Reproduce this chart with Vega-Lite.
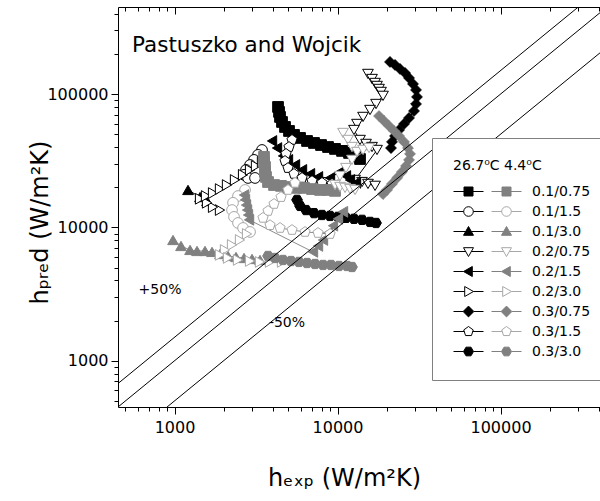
{
  "$schema": "https://vega.github.io/schema/vega-lite/v6.json",
  "width": 482,
  "height": 400,
  "autosize": {"type": "none"},
  "padding": {"left": 118, "top": 7, "right": 0, "bottom": 94},
  "background": "#ffffff",
  "config": {
    "font": "DejaVu Sans",
    "view": {"stroke": null},
    "axis": {"domainColor": "#000", "tickColor": "#000", "labelColor": "#000", "titleColor": "#000", "grid": false, "domainWidth": 1, "tickWidth": 1}
  },
  "title": {"text": "Pastuszko and Wojcik", "anchor": "start", "frame": "group", "orient": "top", "offset": 0, "dx": 14, "dy": 68, "fontSize": 21.5, "fontWeight": "normal", "font": "DejaVu Sans", "color": "#000", "baseline": "alphabetic"},
  "datasets": {
    "k": [
      {"s":"0.1/0.75","i":1,"x":4315,"y":80100},{"s":"0.1/0.75","i":2,"x":4377,"y":73500},{"s":"0.1/0.75","i":3,"x":4439,"y":67400},{"s":"0.1/0.75","i":4,"x":4565,"y":61800},{"s":"0.1/0.75","i":5,"x":4763,"y":56700},{"s":"0.1/0.75","i":6,"x":5040,"y":52900},{"s":"0.1/0.75","i":7,"x":5408,"y":49400},{"s":"0.1/0.75","i":8,"x":5888,"y":46900},{"s":"0.1/0.75","i":9,"x":6501,"y":44500},{"s":"0.1/0.75","i":10,"x":7176,"y":43000},{"s":"0.1/0.75","i":11,"x":7922,"y":41500},{"s":"0.1/0.75","i":12,"x":8747,"y":40100},{"s":"0.1/0.75","i":13,"x":9654,"y":38800},{"s":"0.1/0.75","i":14,"x":10660,"y":37500},{"s":"0.1/0.75","i":15,"x":11770,"y":36200},{"s":"0.1/0.75","i":16,"x":12810,"y":34400},{"s":"0.1/0.75","i":17,"x":13740,"y":32600},
      {"s":"0.1/1.5","i":1,"x":3441,"y":38100},{"s":"0.1/1.5","i":2,"x":3253,"y":35000},{"s":"0.1/1.5","i":3,"x":3075,"y":32100},{"s":"0.1/1.5","i":4,"x":2906,"y":29400},{"s":"0.1/1.5","i":5,"x":2746,"y":27000},{"s":"0.1/1.5","i":6,"x":2670,"y":24800},{"s":"0.1/1.5","i":7,"x":2825,"y":23500},{"s":"0.1/1.5","i":8,"x":3118,"y":23500},
      {"s":"0.1/3.0","i":1,"x":1210,"y":19100},{"s":"0.1/3.0","i":2,"x":1434,"y":16900},{"s":"0.1/3.0","i":3,"x":1583,"y":15800},
      {"s":"0.2/0.75","i":1,"x":15380,"y":141600},{"s":"0.2/0.75","i":2,"x":16280,"y":129800},{"s":"0.2/0.75","i":3,"x":16990,"y":121200},{"s":"0.2/0.75","i":4,"x":17470,"y":115100},{"s":"0.2/0.75","i":5,"x":17970,"y":109300},{"s":"0.2/0.75","i":6,"x":18490,"y":103800},{"s":"0.2/0.75","i":7,"x":19020,"y":97000},{"s":"0.2/0.75","i":8,"x":17230,"y":84300},{"s":"0.2/0.75","i":9,"x":15830,"y":76000},{"s":"0.2/0.75","i":10,"x":14340,"y":67400},{"s":"0.2/0.75","i":11,"x":13170,"y":59700},{"s":"0.2/0.75","i":12,"x":12620,"y":53800},{"s":"0.2/0.75","i":13,"x":13740,"y":45300},{"s":"0.2/0.75","i":14,"x":14960,"y":42300},{"s":"0.2/0.75","i":15,"x":16280,"y":40100},{"s":"0.2/0.75","i":16,"x":17470,"y":38100},{"s":"0.2/0.75","i":17,"x":12810,"y":22700},{"s":"0.2/0.75","i":18,"x":14140,"y":21900},{"s":"0.2/0.75","i":19,"x":15380,"y":21200},{"s":"0.2/0.75","i":20,"x":16990,"y":20500},
      {"s":"0.2/1.5","i":1,"x":3966,"y":44500},{"s":"0.2/1.5","i":2,"x":4255,"y":39400},{"s":"0.2/1.5","i":3,"x":4630,"y":34400},{"s":"0.2/1.5","i":4,"x":4969,"y":32100},{"s":"0.2/1.5","i":5,"x":5487,"y":29400},{"s":"0.2/1.5","i":6,"x":6057,"y":27000},{"s":"0.2/1.5","i":7,"x":6782,"y":25200},{"s":"0.2/1.5","i":8,"x":7594,"y":23900},{"s":"0.2/1.5","i":9,"x":8994,"y":23500},{"s":"0.2/1.5","i":10,"x":10360,"y":26100},{"s":"0.2/1.5","i":11,"x":11270,"y":24300},{"s":"0.2/1.5","i":12,"x":11930,"y":22700},{"s":"0.2/1.5","i":13,"x":12990,"y":21600},
      {"s":"0.2/3.0","i":1,"x":1901,"y":13500},{"s":"0.2/3.0","i":2,"x":1723,"y":14200},{"s":"0.2/3.0","i":3,"x":1583,"y":15300},{"s":"0.2/3.0","i":4,"x":1434,"y":16400},{"s":"0.2/3.0","i":5,"x":1560,"y":17200},{"s":"0.2/3.0","i":6,"x":1723,"y":18100},{"s":"0.2/3.0","i":7,"x":1901,"y":19400},{"s":"0.2/3.0","i":8,"x":2099,"y":20800},{"s":"0.2/3.0","i":9,"x":2350,"y":22700},{"s":"0.2/3.0","i":10,"x":2633,"y":24800},{"s":"0.2/3.0","i":11,"x":2906,"y":27000},{"s":"0.2/3.0","i":12,"x":3162,"y":28900},{"s":"0.2/3.0","i":13,"x":3441,"y":31000},
      {"s":"0.3/0.75","i":1,"x":20990,"y":174200},{"s":"0.3/0.75","i":2,"x":22530,"y":165400},{"s":"0.3/0.75","i":3,"x":24180,"y":154300},{"s":"0.3/0.75","i":4,"x":25950,"y":144000},{"s":"0.3/0.75","i":5,"x":27460,"y":132100},{"s":"0.3/0.75","i":6,"x":29050,"y":119100},{"s":"0.3/0.75","i":7,"x":30310,"y":107400},{"s":"0.3/0.75","i":8,"x":30740,"y":95200},{"s":"0.3/0.75","i":9,"x":30310,"y":84300},{"s":"0.3/0.75","i":10,"x":29460,"y":74700},{"s":"0.3/0.75","i":11,"x":27460,"y":66200},{"s":"0.3/0.75","i":12,"x":25590,"y":59700},{"s":"0.3/0.75","i":13,"x":23840,"y":53800},{"s":"0.3/0.75","i":14,"x":22530,"y":48500},{"s":"0.3/0.75","i":15,"x":21590,"y":43800},{"s":"0.3/0.75","i":16,"x":21290,"y":39400},
      {"s":"0.3/1.5","i":1,"x":5258,"y":45300},{"s":"0.3/1.5","i":2,"x":5040,"y":40100},{"s":"0.3/1.5","i":3,"x":4831,"y":35600},{"s":"0.3/1.5","i":4,"x":4763,"y":31500},{"s":"0.3/1.5","i":5,"x":4969,"y":27900},{"s":"0.3/1.5","i":6,"x":5408,"y":25200},{"s":"0.3/1.5","i":7,"x":6057,"y":23500},{"s":"0.3/1.5","i":8,"x":6976,"y":22300},{"s":"0.3/1.5","i":9,"x":8034,"y":21600},{"s":"0.3/1.5","i":10,"x":9253,"y":21200},
      {"s":"0.3/3.0","i":1,"x":5644,"y":16100},{"s":"0.3/3.0","i":2,"x":5888,"y":14500},{"s":"0.3/3.0","i":3,"x":6409,"y":13500},{"s":"0.3/3.0","i":4,"x":7176,"y":12800},{"s":"0.3/3.0","i":5,"x":8034,"y":12400},{"s":"0.3/3.0","i":6,"x":8994,"y":12200},{"s":"0.3/3.0","i":7,"x":10070,"y":12000},{"s":"0.3/3.0","i":8,"x":11270,"y":11800},{"s":"0.3/3.0","i":9,"x":12620,"y":11600},{"s":"0.3/3.0","i":10,"x":14140,"y":11400},{"s":"0.3/3.0","i":11,"x":15830,"y":11000},{"s":"0.3/3.0","i":12,"x":17230,"y":10800}
    ],
    "g": [
      {"s":"0.1/0.75","i":1,"x":3540,"y":33800},{"s":"0.1/0.75","i":2,"x":3540,"y":31000},{"s":"0.1/0.75","i":3,"x":3591,"y":28400},{"s":"0.1/0.75","i":4,"x":3591,"y":26100},{"s":"0.1/0.75","i":5,"x":3642,"y":23900},{"s":"0.1/0.75","i":6,"x":3747,"y":21900},{"s":"0.1/0.75","i":7,"x":4078,"y":20800},{"s":"0.1/0.75","i":8,"x":4502,"y":20500},{"s":"0.1/0.75","i":9,"x":4969,"y":20100},{"s":"0.1/0.75","i":10,"x":5565,"y":19800},{"s":"0.1/0.75","i":11,"x":6231,"y":19800},{"s":"0.1/0.75","i":12,"x":6976,"y":19400},{"s":"0.1/0.75","i":13,"x":7811,"y":19100},{"s":"0.1/0.75","i":14,"x":8747,"y":19100},{"s":"0.1/0.75","i":15,"x":9654,"y":18800},
      {"s":"0.1/1.5","i":1,"x":2708,"y":19100},{"s":"0.1/1.5","i":2,"x":2452,"y":17200},{"s":"0.1/1.5","i":3,"x":2285,"y":15300},{"s":"0.1/1.5","i":4,"x":2253,"y":13500},{"s":"0.1/1.5","i":5,"x":2317,"y":12000},{"s":"0.1/1.5","i":6,"x":2452,"y":10800},{"s":"0.1/1.5","i":7,"x":2633,"y":9910},{"s":"0.1/1.5","i":8,"x":2906,"y":9250},
      {"s":"0.1/3.0","i":1,"x":979,"y":8050},{"s":"0.1/3.0","i":2,"x":1096,"y":7260},{"s":"0.1/3.0","i":3,"x":1245,"y":6780},{"s":"0.1/3.0","i":4,"x":1374,"y":6660},{"s":"0.1/3.0","i":5,"x":1538,"y":6660},{"s":"0.1/3.0","i":6,"x":1699,"y":6550},{"s":"0.1/3.0","i":7,"x":1901,"y":6320},{"s":"0.1/3.0","i":8,"x":2129,"y":6110},{"s":"0.1/3.0","i":9,"x":2384,"y":6000},{"s":"0.1/3.0","i":10,"x":2670,"y":5900},{"s":"0.1/3.0","i":11,"x":2990,"y":5800},{"s":"0.1/3.0","i":12,"x":3345,"y":5700},
      {"s":"0.2/0.75","i":1,"x":10810,"y":51100},{"s":"0.2/0.75","i":2,"x":11600,"y":45300},{"s":"0.2/0.75","i":3,"x":12270,"y":40100},{"s":"0.2/0.75","i":4,"x":13170,"y":36800},{"s":"0.2/0.75","i":5,"x":14340,"y":38100},{"s":"0.2/0.75","i":6,"x":15610,"y":39400},{"s":"0.2/0.75","i":7,"x":12270,"y":32100},{"s":"0.2/0.75","i":8,"x":11270,"y":27900},{"s":"0.2/0.75","i":9,"x":10360,"y":24300},{"s":"0.2/0.75","i":10,"x":9654,"y":20800},{"s":"0.2/0.75","i":11,"x":10360,"y":20100},{"s":"0.2/0.75","i":12,"x":11120,"y":19800},{"s":"0.2/0.75","i":13,"x":11930,"y":19400},{"s":"0.2/0.75","i":14,"x":12810,"y":19100},
      {"s":"0.2/1.5","i":1,"x":2670,"y":17500},{"s":"0.2/1.5","i":2,"x":2708,"y":16100},{"s":"0.2/1.5","i":3,"x":2746,"y":14700},{"s":"0.2/1.5","i":4,"x":2786,"y":13500},{"s":"0.2/1.5","i":5,"x":2825,"y":12400},{"s":"0.2/1.5","i":6,"x":2866,"y":11400},{"s":"0.2/1.5","i":7,"x":7075,"y":6550},{"s":"0.2/1.5","i":8,"x":7594,"y":7260},{"s":"0.2/1.5","i":9,"x":8148,"y":8050},{"s":"0.2/1.5","i":10,"x":8747,"y":9090},{"s":"0.2/1.5","i":11,"x":9385,"y":10300},{"s":"0.2/1.5","i":12,"x":10070,"y":11600},{"s":"0.2/1.5","i":13,"x":10810,"y":13100},
      {"s":"0.2/3.0","i":1,"x":2786,"y":8930},{"s":"0.2/3.0","i":2,"x":2522,"y":8050},{"s":"0.2/3.0","i":3,"x":2253,"y":7390},{"s":"0.2/3.0","i":4,"x":2040,"y":6780},{"s":"0.2/3.0","i":5,"x":1901,"y":6220},{"s":"0.2/3.0","i":6,"x":2129,"y":5900},{"s":"0.2/3.0","i":7,"x":2452,"y":5700},{"s":"0.2/3.0","i":8,"x":2906,"y":5600},{"s":"0.2/3.0","i":9,"x":3345,"y":5510},{"s":"0.2/3.0","i":10,"x":3855,"y":5510},{"s":"0.2/3.0","i":11,"x":4565,"y":5510},
      {"s":"0.3/0.75","i":1,"x":17970,"y":68500},{"s":"0.3/0.75","i":2,"x":19290,"y":62900},{"s":"0.3/0.75","i":3,"x":20700,"y":57700},{"s":"0.3/0.75","i":4,"x":22220,"y":52900},{"s":"0.3/0.75","i":5,"x":23840,"y":48500},{"s":"0.3/0.75","i":6,"x":25590,"y":43800},{"s":"0.3/0.75","i":7,"x":27070,"y":39400},{"s":"0.3/0.75","i":8,"x":27850,"y":35600},{"s":"0.3/0.75","i":9,"x":27460,"y":32100},{"s":"0.3/0.75","i":10,"x":26320,"y":28900},{"s":"0.3/0.75","i":11,"x":24870,"y":26100},{"s":"0.3/0.75","i":12,"x":23180,"y":23500},{"s":"0.3/0.75","i":13,"x":21590,"y":21200},{"s":"0.3/0.75","i":14,"x":20120,"y":19100},{"s":"0.3/0.75","i":15,"x":19020,"y":17800},
      {"s":"0.3/1.5","i":1,"x":5487,"y":21600},{"s":"0.3/1.5","i":2,"x":4969,"y":19100},{"s":"0.3/1.5","i":3,"x":4502,"y":16900},{"s":"0.3/1.5","i":4,"x":4078,"y":15000},{"s":"0.3/1.5","i":5,"x":3747,"y":13300},{"s":"0.3/1.5","i":6,"x":3490,"y":11800},{"s":"0.3/1.5","i":7,"x":3855,"y":10400},{"s":"0.3/1.5","i":8,"x":4439,"y":9910},{"s":"0.3/1.5","i":9,"x":5258,"y":9570},{"s":"0.3/1.5","i":10,"x":6319,"y":9250},{"s":"0.3/1.5","i":11,"x":7594,"y":9090},{"s":"0.3/1.5","i":12,"x":8994,"y":8930},
      {"s":"0.3/3.0","i":1,"x":3747,"y":6110},{"s":"0.3/3.0","i":2,"x":4137,"y":5900},{"s":"0.3/3.0","i":3,"x":4630,"y":5700},{"s":"0.3/3.0","i":4,"x":5183,"y":5600},{"s":"0.3/3.0","i":5,"x":5806,"y":5510},{"s":"0.3/3.0","i":6,"x":6501,"y":5410},{"s":"0.3/3.0","i":7,"x":7278,"y":5320},{"s":"0.3/3.0","i":8,"x":8148,"y":5230},{"s":"0.3/3.0","i":9,"x":9122,"y":5230},{"s":"0.3/3.0","i":10,"x":10210,"y":5140},{"s":"0.3/3.0","i":11,"x":11440,"y":5140},{"s":"0.3/3.0","i":12,"x":12270,"y":5050}
    ],
    "ref": [
      {"k":"+50%","x":450,"y":675},{"k":"+50%","x":450000,"y":675000},
      {"k":"0","x":450,"y":450},{"k":"0","x":450000,"y":450000},
      {"k":"-50%","x":450,"y":225},{"k":"-50%","x":450000,"y":225000}
    ],
    "ann": [
      {"t":"+50%","x":815,"y":3394},
      {"t":"-50%","x":4897,"y":1920}
    ]
  },
  "encoding": {
    "x": {"field": "x", "type": "quantitative", "scale": {"type": "log", "domain": [450, 407700], "nice": false}, "axis": null},
    "y": {"field": "y", "type": "quantitative", "scale": {"type": "log", "domain": [450, 450000], "nice": false},
      "axis": {
        "values": [500,600,700,800,900,1000,2000,3000,4000,5000,6000,7000,8000,9000,10000,20000,30000,40000,50000,60000,70000,80000,90000,100000,200000,300000,400000],
        "labelExpr": "indexof([1000,10000,100000], datum.value) >= 0 ? format(datum.value, 'd') : ''",
        "tickSize": {"condition": {"test": "indexof([1000,10000,100000], datum.value) >= 0", "value": 7}, "value": 4},
        "labelFont": "DejaVu Sans", "labelFontSize": 16, "labelPadding": 3, "labelOverlap": false, "labelFlush": false,
        "title": "hₚᵣₑd (W/m²K)", "titleFont": "DejaVu Sans", "titleFontSize": 24, "titleFontWeight": "normal",
        "titleX": -71, "titleY": 215, "titleBaseline": "alphabetic", "titleAngle": -90
      }
    }
  },
  "layer": [
    {
      "data": {"name": "k"},
      "mark": {"type": "line", "stroke": "#000", "strokeWidth": 1, "clip": true},
      "encoding": {
        "x": {"field": "x", "type": "quantitative", "scale": {"type": "log", "domain": [450, 407700], "nice": false},
          "axis": {
            "orient": "bottom",
            "values": [500,600,700,800,900,1000,2000,3000,4000,5000,6000,7000,8000,9000,10000,20000,30000,40000,50000,60000,70000,80000,90000,100000,200000,300000,400000],
            "labelExpr": "indexof([1000,10000,100000], datum.value) >= 0 ? format(datum.value, 'd') : ''",
            "tickSize": {"condition": {"test": "indexof([1000,10000,100000], datum.value) >= 0", "value": 7}, "value": 4},
            "labelFont": "DejaVu Sans", "labelFontSize": 16, "labelPadding": 5, "labelOverlap": false, "labelFlush": false,
            "title": "hₑₓₚ (W/m²K)", "titleFont": "DejaVu Sans", "titleFontSize": 24, "titleFontWeight": "normal",
            "titleX": 226, "titleY": 78, "titleBaseline": "alphabetic"
          }
        },
        "detail": {"field": "s"},
        "order": {"field": "i"}
      }
    },
    {
      "data": {"name": "k"},
      "mark": {"type": "point", "filled": true, "size": 115, "strokeWidth": 1, "opacity": 1, "clip": true},
      "encoding": {
        "shape": {"field": "s", "type": "nominal", "legend": null, "scale": {"domain": ["0.1/0.75","0.1/1.5","0.1/3.0","0.2/0.75","0.2/1.5","0.2/3.0","0.3/0.75","0.3/1.5","0.3/3.0"], "range": ["square","circle","triangle-up","triangle-down","triangle-left","triangle-right","diamond","M0,-1L0.951,-0.309L0.588,0.809L-0.588,0.809L-0.951,-0.309Z","M-1,0L-0.5,-0.866L0.5,-0.866L1,0L0.5,0.866L-0.5,0.866Z"]}},
        "fill": {"field": "s", "type": "nominal", "legend": null, "scale": {"domain": ["0.1/0.75","0.1/1.5","0.1/3.0","0.2/0.75","0.2/1.5","0.2/3.0","0.3/0.75","0.3/1.5","0.3/3.0"], "range": ["#000000","#ffffff","#000000","#ffffff","#000000","#ffffff","#000000","#ffffff","#000000"]}},
        "stroke": {"value": "#000000"}
      }
    },
    {
      "data": {"name": "g"},
      "mark": {"type": "line", "stroke": "#8c8c8c", "strokeWidth": 1, "clip": true},
      "encoding": {"detail": {"field": "s"}, "order": {"field": "i"}}
    },
    {
      "data": {"name": "g"},
      "mark": {"type": "point", "filled": true, "size": 115, "strokeWidth": 1, "opacity": 1, "clip": true},
      "encoding": {
        "shape": {"field": "s", "type": "nominal", "legend": null, "scale": {"domain": ["0.1/0.75","0.1/1.5","0.1/3.0","0.2/0.75","0.2/1.5","0.2/3.0","0.3/0.75","0.3/1.5","0.3/3.0"], "range": ["square","circle","triangle-up","triangle-down","triangle-left","triangle-right","diamond","M0,-1L0.951,-0.309L0.588,0.809L-0.588,0.809L-0.951,-0.309Z","M-1,0L-0.5,-0.866L0.5,-0.866L1,0L0.5,0.866L-0.5,0.866Z"]}},
        "fill": {"field": "s", "type": "nominal", "legend": null, "scale": {"domain": ["0.1/0.75","0.1/1.5","0.1/3.0","0.2/0.75","0.2/1.5","0.2/3.0","0.3/0.75","0.3/1.5","0.3/3.0"], "range": ["#808080","#ffffff","#808080","#ffffff","#808080","#ffffff","#808080","#ffffff","#808080"]}},
        "stroke": {"field": "s", "type": "nominal", "legend": null, "scale": {"domain": ["0.1/0.75","0.1/1.5","0.1/3.0","0.2/0.75","0.2/1.5","0.2/3.0","0.3/0.75","0.3/1.5","0.3/3.0"], "range": ["#808080","#a8a8a8","#808080","#a8a8a8","#808080","#a8a8a8","#808080","#a8a8a8","#808080"]}}
      }
    },
    {
      "data": {"name": "ref"},
      "mark": {"type": "line", "stroke": "#000", "strokeWidth": 1, "clip": true},
      "encoding": {
        "x": {"field": "x", "type": "quantitative", "scale": {"type": "log", "domain": [450, 407700], "nice": false},
          "axis": {
            "orient": "top",
            "values": [500,600,700,800,900,1000,2000,3000,4000,5000,6000,7000,8000,9000,10000,20000,30000,40000,50000,60000,70000,80000,90000,100000,200000,300000,400000],
            "labels": false,
            "tickSize": {"condition": {"test": "indexof([1000,10000,100000], datum.value) >= 0", "value": -7}, "value": -4},
            "title": null
          }
        },
        "detail": {"field": "k"}
      }
    },
    {
      "data": {"name": "ann"},
      "mark": {"type": "text", "font": "DejaVu Sans", "fontSize": 14, "color": "#000", "align": "center", "baseline": "middle"},
      "encoding": {"text": {"field": "t"}}
    },
    {
      "data": {"name": "k"},
      "mark": {"type": "point", "filled": true, "size": 400, "opacity": 0, "strokeWidth": 1},
      "encoding": {
        "shape": {"field": "s", "type": "nominal",
          "scale": {"domain": ["0.1/0.75","0.1/1.5","0.1/3.0","0.2/0.75","0.2/1.5","0.2/3.0","0.3/0.75","0.3/1.5","0.3/3.0"], "range": ["M-1.5,0H-0.45M0.45,0H1.5M-0.45,-0.45H0.45V0.45H-0.45Z","M-1.5,0H-0.48M0.48,0H1.5M0.48,0A0.48,0.48 0 1,1 -0.48,0A0.48,0.48 0 1,1 0.48,0Z","M-1.5,0H-0.28M0.28,0H1.5M0,-0.5L0.5,0.38L-0.5,0.38Z","M-1.5,0H-0.28M0.28,0H1.5M0,0.5L0.5,-0.38L-0.5,-0.38Z","M-1.5,0H-0.5M0.38,0H1.5M-0.5,0L0.38,-0.5L0.38,0.5Z","M-1.5,0H-0.38M0.5,0H1.5M0.5,0L-0.38,-0.5L-0.38,0.5Z","M-1.5,0H-0.54M0.54,0H1.5M0,-0.54L0.54,0L0,0.54L-0.54,0Z","M-1.5,0H-0.42M0.42,0H1.5M0,-0.5L0.476,-0.155L0.294,0.405L-0.294,0.405L-0.476,-0.155Z","M-1.5,0H-0.5M0.5,0H1.5M-0.5,0L-0.25,-0.433L0.25,-0.433L0.5,0L0.25,0.433L-0.25,0.433Z"]},
          "legend": {"orient": "none", "legendX": 314, "legendY": 131, "title": "26.7⁰C 4.4⁰C", "titleFont": "DejaVu Sans", "titleFontSize": 14, "titleFontWeight": "normal", "titleColor": "#000", "titlePadding": 8, "labelFont": "DejaVu Sans", "labelFontSize": 14, "labelColor": "#000", "labelOffset": 53, "labelLimit": 200, "symbolSize": 400, "symbolOffset": 5, "symbolStrokeWidth": 1, "symbolOpacity": 1, "padding": 21, "strokeColor": "#808080", "fillColor": "#ffffff", "rowPadding": 2}
        },
        "fill": {"field": "s", "type": "nominal",
          "scale": {"domain": ["0.1/0.75","0.1/1.5","0.1/3.0","0.2/0.75","0.2/1.5","0.2/3.0","0.3/0.75","0.3/1.5","0.3/3.0"], "range": ["#000000","#ffffff","#000000","#ffffff","#000000","#ffffff","#000000","#ffffff","#000000"]},
          "legend": {"orient": "none", "legendX": 314, "legendY": 131, "title": "26.7⁰C 4.4⁰C", "titleFont": "DejaVu Sans", "titleFontSize": 14, "titleFontWeight": "normal", "titleColor": "#000", "titlePadding": 8, "labelFont": "DejaVu Sans", "labelFontSize": 14, "labelColor": "#000", "labelOffset": 53, "labelLimit": 200, "symbolSize": 400, "symbolOffset": 5, "symbolStrokeWidth": 1, "symbolOpacity": 1, "padding": 21, "strokeColor": "#808080", "fillColor": "#ffffff", "rowPadding": 2}
        },
        "stroke": {"field": "s", "type": "nominal",
          "scale": {"domain": ["0.1/0.75","0.1/1.5","0.1/3.0","0.2/0.75","0.2/1.5","0.2/3.0","0.3/0.75","0.3/1.5","0.3/3.0"], "range": ["#000000","#000000","#000000","#000000","#000000","#000000","#000000","#000000","#000000"]},
          "legend": {"orient": "none", "legendX": 314, "legendY": 131, "title": "26.7⁰C 4.4⁰C", "titleFont": "DejaVu Sans", "titleFontSize": 14, "titleFontWeight": "normal", "titleColor": "#000", "titlePadding": 8, "labelFont": "DejaVu Sans", "labelFontSize": 14, "labelColor": "#000", "labelOffset": 53, "labelLimit": 200, "symbolSize": 400, "symbolOffset": 5, "symbolStrokeWidth": 1, "symbolOpacity": 1, "padding": 21, "strokeColor": "#808080", "fillColor": "#ffffff", "rowPadding": 2}
        }
      }
    },
    {
      "data": {"name": "g"},
      "mark": {"type": "point", "filled": true, "size": 400, "opacity": 0, "strokeWidth": 1},
      "encoding": {
        "shape": {"field": "s", "type": "nominal",
          "scale": {"domain": ["0.1/0.75","0.1/1.5","0.1/3.0","0.2/0.75","0.2/1.5","0.2/3.0","0.3/0.75","0.3/1.5","0.3/3.0"], "range": ["M-1.5,0H-0.45M0.45,0H1.5M-0.45,-0.45H0.45V0.45H-0.45Z","M-1.5,0H-0.48M0.48,0H1.5M0.48,0A0.48,0.48 0 1,1 -0.48,0A0.48,0.48 0 1,1 0.48,0Z","M-1.5,0H-0.28M0.28,0H1.5M0,-0.5L0.5,0.38L-0.5,0.38Z","M-1.5,0H-0.28M0.28,0H1.5M0,0.5L0.5,-0.38L-0.5,-0.38Z","M-1.5,0H-0.5M0.38,0H1.5M-0.5,0L0.38,-0.5L0.38,0.5Z","M-1.5,0H-0.38M0.5,0H1.5M0.5,0L-0.38,-0.5L-0.38,0.5Z","M-1.5,0H-0.54M0.54,0H1.5M0,-0.54L0.54,0L0,0.54L-0.54,0Z","M-1.5,0H-0.42M0.42,0H1.5M0,-0.5L0.476,-0.155L0.294,0.405L-0.294,0.405L-0.476,-0.155Z","M-1.5,0H-0.5M0.5,0H1.5M-0.5,0L-0.25,-0.433L0.25,-0.433L0.5,0L0.25,0.433L-0.25,0.433Z"]},
          "legend": {"orient": "none", "legendX": 373, "legendY": 174, "title": null, "labelFont": "DejaVu Sans", "labelFontSize": 14, "labelOpacity": 0, "labelOffset": -62, "labelLimit": 200, "symbolSize": 400, "symbolOffset": 5, "symbolStrokeWidth": 1, "symbolOpacity": 1, "padding": 0, "rowPadding": 2}
        },
        "fill": {"field": "s", "type": "nominal",
          "scale": {"domain": ["0.1/0.75","0.1/1.5","0.1/3.0","0.2/0.75","0.2/1.5","0.2/3.0","0.3/0.75","0.3/1.5","0.3/3.0"], "range": ["#808080","#ffffff","#808080","#ffffff","#808080","#ffffff","#808080","#ffffff","#808080"]},
          "legend": {"orient": "none", "legendX": 373, "legendY": 174, "title": null, "labelFont": "DejaVu Sans", "labelFontSize": 14, "labelOpacity": 0, "labelOffset": -62, "labelLimit": 200, "symbolSize": 400, "symbolOffset": 5, "symbolStrokeWidth": 1, "symbolOpacity": 1, "padding": 0, "rowPadding": 2}
        },
        "stroke": {"field": "s", "type": "nominal",
          "scale": {"domain": ["0.1/0.75","0.1/1.5","0.1/3.0","0.2/0.75","0.2/1.5","0.2/3.0","0.3/0.75","0.3/1.5","0.3/3.0"], "range": ["#808080","#a8a8a8","#808080","#a8a8a8","#808080","#a8a8a8","#808080","#a8a8a8","#808080"]},
          "legend": {"orient": "none", "legendX": 373, "legendY": 174, "title": null, "labelFont": "DejaVu Sans", "labelFontSize": 14, "labelOpacity": 0, "labelOffset": -62, "labelLimit": 200, "symbolSize": 400, "symbolOffset": 5, "symbolStrokeWidth": 1, "symbolOpacity": 1, "padding": 0, "rowPadding": 2}
        }
      }
    }
  ],
  "resolve": {
    "scale": {"shape": "independent", "fill": "independent", "stroke": "independent"},
    "legend": {"shape": "independent", "fill": "independent", "stroke": "independent"},
    "axis": {"x": "independent"}
  }
}
